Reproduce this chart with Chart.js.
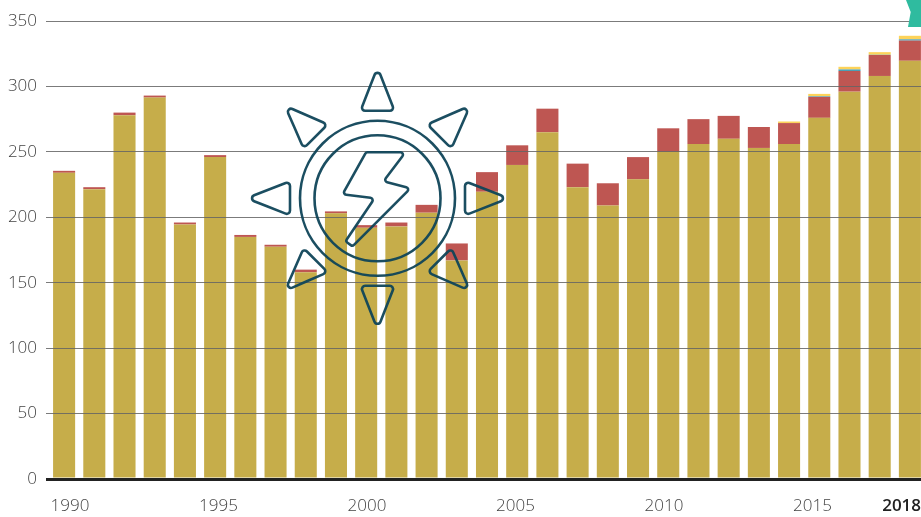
<!DOCTYPE html>
<html lang="en">
<head>
    <meta charset="UTF-8">
    <title>Chart</title>
    <script src="https://cdn.jsdelivr.net/npm/chart.js"></script>
    <style>
        html, body { margin: 0; padding: 0; overflow: hidden; background: #fff; }
        canvas { display: block; }
    </style>
</head>
<body>
    <canvas id="chart" width="925" height="517"></canvas>

    <script>
        const years = [1990, 1991, 1992, 1993, 1994, 1995, 1996, 1997, 1998, 1999, 2000, 2001, 2002, 2003, 2004,
            2005, 2006, 2007, 2008, 2009, 2010, 2011, 2012, 2013, 2014, 2015, 2016, 2017, 2018];
        const yearTicks = [1990, 1995, 2000, 2005, 2010, 2015, 2018];
        const valueTicks = [0, 50, 100, 150, 200, 250, 300, 350];

        const goldValues = [234, 221.5, 278, 291.5, 194.5, 246, 185, 177.5, 158, 203, 192, 193, 203.5, 167, 219.5,
            240, 265, 223, 209, 229, 250, 256, 260, 253, 256, 276, 296, 308, 319.6];
        const redValues = [1.5, 1.5, 2, 1.5, 1.5, 1.5, 1.5, 1.5, 2, 1.5, 2, 3, 6, 13, 15,
            15, 18, 18, 17, 17, 18, 19, 17.5, 16, 16, 16, 15.8, 16, 15.4];
        const blueValues = [0, 0, 0, 0, 0, 0, 0, 0, 0, 0, 0, 0, 0, 0, 0,
            0, 0, 0, 0, 0, 0, 0, 0, 0, 0, 0.5, 1.2, 0.2, 1];
        const yellowValues = [0, 0, 0, 0, 0, 0, 0, 0, 0, 0, 0, 0, 0, 0, 0,
            0, 0, 0, 0, 0, 0, 0, 0, 0, 1.2, 1.8, 2, 2, 2.7];

        const labelFont = '"Open Sans", sans-serif';

        function roundedPath(ctx, pts, r) {
            const last = pts[pts.length - 1];
            const first = pts[0];
            ctx.beginPath();
            ctx.moveTo((last[0] + first[0]) / 2, (last[1] + first[1]) / 2);
            pts.forEach((p, i) => {
                const next = pts[(i + 1) % pts.length];
                ctx.arcTo(p[0], p[1], next[0], next[1], r);
            });
            ctx.closePath();
            ctx.stroke();
        }

        // sun icon and the green corner on top of the chart
        const iconPlugin = {
            id: 'icon',
            afterDraw(chart) {
                const ctx = chart.ctx;
                ctx.save();

                ctx.fillStyle = '#2fbb9f';
                ctx.beginPath();
                ctx.moveTo(906, 0);
                ctx.lineTo(925, 0);
                ctx.lineTo(925, 27);
                ctx.lineTo(908, 27);
                ctx.lineTo(910.7, 12);
                ctx.closePath();
                ctx.fill();

                ctx.translate(377.5, 198.3);
                ctx.strokeStyle = 'rgba(15, 68, 88, 0.95)';
                ctx.lineWidth = 2.6;
                ctx.lineJoin = 'round';

                [77.5, 63].forEach(r => {
                    ctx.beginPath();
                    ctx.arc(0, 0, r, 0, Math.PI * 2);
                    ctx.stroke();
                });

                for (let i = 0; i < 8; i++) {
                    ctx.save();
                    ctx.rotate(i * Math.PI / 4);
                    roundedPath(ctx, [[0, -131], [17, -87.5], [-17, -87.5]], 3.2);
                    ctx.restore();
                }

                roundedPath(ctx, [[-11.5, -46], [28, -46], [6, -17], [33, -10], [-25, 48], [-32, 43], [-3, 0], [-35, -4]], 2.5);
                ctx.restore();
            }
        };

        new Chart(document.getElementById('chart').getContext('2d'), {
            type: 'bar',
            data: {
                labels: years,
                datasets: [
                    { label: 'Gold', data: goldValues, backgroundColor: '#c6ad4a' },
                    { label: 'Red', data: redValues, backgroundColor: '#be5652' },
                    { label: 'Blue', data: blueValues, backgroundColor: '#4a9fb5' },
                    { label: 'Yellow', data: yellowValues, backgroundColor: '#fdd35a' }
                ]
            },
            options: {
                responsive: false,
                animation: false,
                layout: { padding: { top: 21, right: 0, bottom: 0, left: 0 } },
                datasets: { bar: { barPercentage: 0.73, categoryPercentage: 1 } },
                plugins: { legend: { display: false }, title: { display: false }, tooltip: { enabled: false } },
                scales: {
                    x: { stacked: true, display: false },
                    // the year labels do not sit exactly under the bars, so they get their own axis
                    yearAxis: {
                        type: 'linear',
                        axis: 'x',
                        position: 'bottom',
                        offset: false,
                        min: 1989.293,
                        max: 2018.788,
                        grid: { display: false },
                        border: { display: false },
                        afterBuildTicks: scale => { scale.ticks = yearTicks.map(value => ({ value })); },
                        afterFit: scale => {
                            scale.height = 38;
                            scale.paddingLeft = 0;
                            scale.paddingRight = 0;
                        },
                        ticks: {
                            autoSkip: false,
                            maxRotation: 0,
                            padding: 9,
                            color: context => context.tick && context.tick.value === 2018 ? '#222' : '#444',
                            callback: value => String(value),
                            font: context => ({
                                family: labelFont,
                                size: 17,
                                weight: context.tick && context.tick.value === 2018 ? '600' : '300'
                            })
                        }
                    },
                    y: {
                        stacked: true,
                        min: 0,
                        max: 350,
                        afterBuildTicks: scale => { scale.ticks = valueTicks.map(value => ({ value })); },
                        afterFit: scale => { scale.width = 49; },
                        border: { display: false },
                        grid: {
                            z: 1,
                            tickLength: 3,
                            color: context => context.tick.value === 0 ? '#222' : 'rgba(100, 100, 100, 0.85)',
                            tickColor: context => context.tick.value === 0 ? '#222' : 'rgba(100, 100, 100, 0.85)',
                            lineWidth: context => context.tick.value === 0 ? 3 : 1
                        },
                        ticks: {
                            padding: 9,
                            color: '#444',
                            font: { family: labelFont, size: 17, weight: '300' }
                        }
                    }
                }
            },
            plugins: [iconPlugin]
        });
    </script>
</body>
</html>
